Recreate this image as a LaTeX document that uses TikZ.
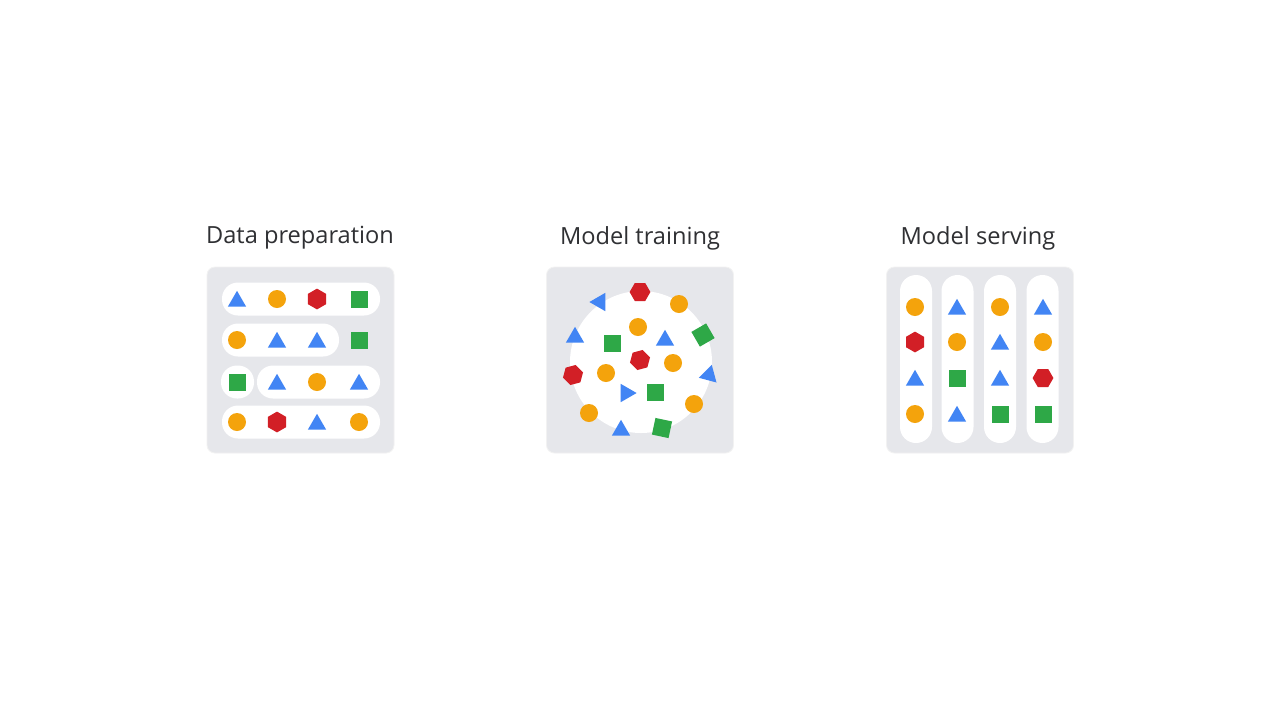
\documentclass[tikz,border=0pt]{standalone}
\usepackage{fontspec}
\setmainfont{Open Sans}
\usetikzlibrary{shapes.geometric}

\definecolor{gBlue}{HTML}{4285F4}
\definecolor{gYellow}{HTML}{F4A30C}
\definecolor{gRed}{HTML}{D21F26}
\definecolor{gGreen}{HTML}{2EA847}
\definecolor{panelGray}{HTML}{E6E7EB}
\definecolor{titleGray}{HTML}{2F3033}

\begin{document}
\begin{tikzpicture}[x=0.5pt, y=-0.5pt,
    panel/.style={fill=panelGray, draw=black!5, rounded corners=4pt,
                  minimum width=93.5pt, minimum height=93pt, inner sep=0pt},
    pill/.style={fill=white, rounded corners=8pt, minimum height=16.5pt,
                 inner sep=0pt},
    vpill/.style={fill=white, rounded corners=8pt, minimum width=16pt,
                  minimum height=84pt, inner sep=0pt},
    title/.style={font=\fontsize{11.8}{14}\selectfont, text=titleGray},
    tri/.style={regular polygon, regular polygon sides=3, fill=gBlue,
                minimum size=10.6pt, inner sep=0pt},
    triup/.style={tri, yshift=-1.2pt},
    dot/.style={circle, fill=gYellow, minimum size=9pt, inner sep=0pt},
    hexa/.style={regular polygon, regular polygon sides=6, fill=gRed,
                 minimum size=10.4pt, inner sep=0pt, shape border rotate=30},
    sq/.style={rectangle, fill=gGreen, minimum size=8.5pt, inner sep=0pt},
]

\useasboundingbox[fill=white] (0,0) rectangle (1280,720);

% --- Data preparation (left) ---
\node[title] (prepTitle) at (300, 238) {Data preparation};
\node[panel] (prep) at (300.5, 360) {};

\node[pill, minimum width=79pt] (row1) at (301, 299) {};
\node[pill, minimum width=58.5pt] (row2) at (280.5, 340) {};
\node[pill, minimum width=16.5pt] (row3a) at (237.5, 382) {};
\node[pill, minimum width=61.5pt] (row3b) at (318.5, 382) {};
\node[pill, minimum width=79pt] (row4) at (301, 422) {};

\node[triup] (r1a) at (237, 299) {};
\node[dot]   (r1b) at (277, 299) {};
\node[hexa]  (r1c) at (317, 299) {};
\node[sq]    (r1d) at (359, 299) {};

\node[dot]   (r2a) at (237, 340) {};
\node[triup] (r2b) at (277, 340) {};
\node[triup] (r2c) at (317, 340) {};
\node[sq]    (r2d) at (359, 340) {};

\node[sq]    (r3a) at (237, 382) {};
\node[triup] (r3b) at (277, 382) {};
\node[dot]   (r3c) at (317, 382) {};
\node[triup] (r3d) at (359, 382) {};

\node[dot]   (r4a) at (237, 422) {};
\node[hexa]  (r4b) at (277, 422) {};
\node[triup] (r4c) at (317, 422) {};
\node[dot]   (r4d) at (359, 422) {};

% --- Model training (middle) ---
\node[title] (trainTitle) at (640, 238) {Model training};
\node[panel] (train) at (640, 360) {};
\node[circle, fill=white, minimum size=71pt, inner sep=0pt]
    (blob) at (641, 362) {};

\node[tri, shape border rotate=90] (m1) at (600, 302) {};
\node[hexa, shape border rotate=0] (m2) at (640, 292) {};
\node[dot]   (m3) at (679, 304) {};
\node[triup] (m4) at (575, 335) {};
\node[dot]   (m5) at (638, 327) {};
\node[sq]    (m6) at (612, 343) {};
\node[triup] (m7) at (665, 338) {};
\node[sq, rotate=30] (m8) at (703, 335) {};
\node[hexa, shape border rotate=15] (m9) at (640, 360) {};
\node[dot]   (m10) at (673, 363) {};
\node[hexa, shape border rotate=15] (m11) at (573, 375) {};
\node[dot]   (m12) at (606, 373) {};
\node[tri, shape border rotate=-15] (m13) at (709, 375) {};
\node[tri, shape border rotate=-90] (m14) at (626, 393) {};
\node[sq]    (m15) at (655, 392) {};
\node[dot]   (m16) at (589, 413) {};
\node[dot]   (m17) at (694, 404) {};
\node[triup] (m18) at (621, 428) {};
\node[sq, rotate=-12] (m19) at (662, 428) {};

% --- Model serving (right) ---
\node[title] (serveTitle) at (978, 238) {Model serving};
\node[panel] (serve) at (980, 360) {};

\node[vpill] (col1) at (916, 359) {};
\node[vpill] (col2) at (957.5, 359) {};
\node[vpill] (col3) at (1000, 359) {};
\node[vpill] (col4) at (1042.5, 359) {};

\node[dot]   (c1a) at (915, 307) {};
\node[hexa]  (c1b) at (915, 342) {};
\node[triup] (c1c) at (915, 378) {};
\node[dot]   (c1d) at (915, 414) {};

\node[triup] (c2a) at (957, 307) {};
\node[dot]   (c2b) at (957, 342) {};
\node[sq]    (c2c) at (957, 378) {};
\node[triup] (c2d) at (957, 414) {};

\node[dot]   (c3a) at (1000, 307) {};
\node[triup] (c3b) at (1000, 342) {};
\node[triup] (c3c) at (1000, 378) {};
\node[sq]    (c3d) at (1000, 414) {};

\node[triup] (c4a) at (1043, 307) {};
\node[dot]   (c4b) at (1043, 342) {};
\node[hexa, shape border rotate=0] (c4c) at (1043, 378) {};
\node[sq]    (c4d) at (1043, 414) {};

\end{tikzpicture}
\end{document}
